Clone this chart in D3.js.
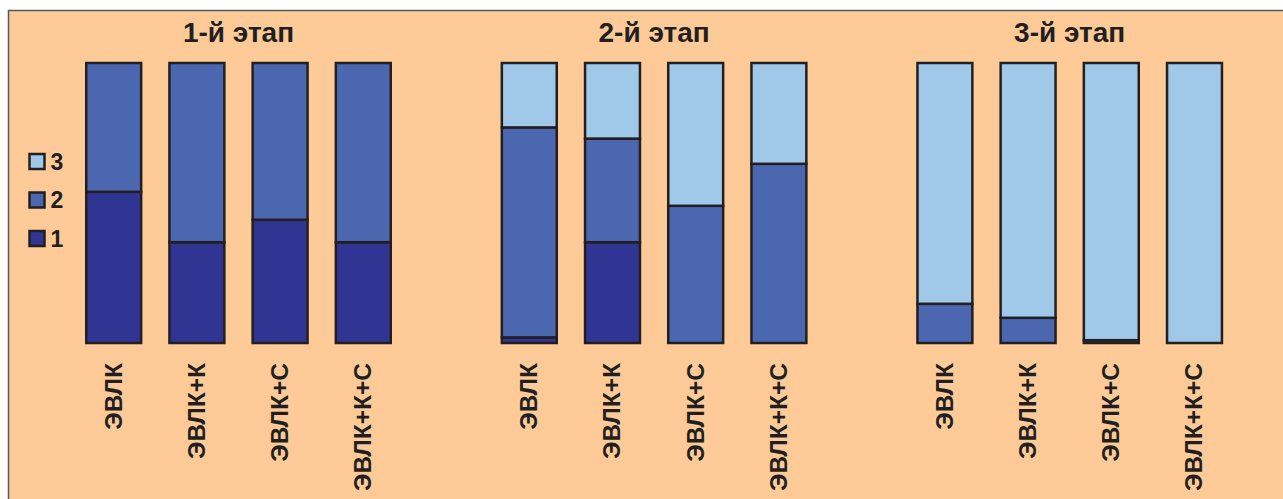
<!DOCTYPE html>
<html>
<head>
<meta charset="utf-8">
<script src="https://cdn.jsdelivr.net/npm/d3@7"></script>
<style>
  html, body { margin: 0; padding: 0; background: #ffffff; }
  svg { display: block; }
  text { font-family: "Liberation Sans", Arial, sans-serif; fill: #231f20; }
</style>
</head>
<body>
<svg id="chart" width="1283" height="499"></svg>
<script>
// Stages (panels) and treatment groups
const stages = ["1-й этап", "2-й этап", "3-й этап"];
const groups = ["ЭВЛК", "ЭВЛК+К", "ЭВЛК+С", "ЭВЛК+К+С"];
const seriesKeys = ["1", "2", "3"];

// Share (%) of each grade per group, one array per stage: [grade1, grade2, grade3]
const stage1 = [[54, 46, 0], [36, 64, 0], [44, 56, 0], [36, 64, 0]];
const stage2 = [[2, 75, 23], [36, 37, 27], [0, 49, 51], [0, 64, 36]];
const stage3 = [[0, 14, 86], [0, 9, 91], [0, 1, 99], [0, 0, 100]];
const stageValues = [stage1, stage2, stage3];

const colors = { "1": "#303594", "2": "#4a67af", "3": "#9fc8e9" };
const bg = "#fecb98";
const ink = "#231f20";

const svg = d3.select("#chart");

// Panel frame
svg.append("rect")
  .attr("x", 8.5).attr("y", 10.5)
  .attr("width", 1300).attr("height", 520)
  .attr("fill", bg)
  .attr("stroke", "#5a5a5a").attr("stroke-width", 1.5);

const y = d3.scaleLinear().domain([0, 100]).range([343, 63]);
const color = d3.scaleOrdinal().domain(seriesKeys).range(seriesKeys.map(k => colors[k]));
const stack = d3.stack().keys(seriesKeys);

const panelCenters = [238.5, 654.1, 1069.7];
const step = 83.2;

stages.forEach((stage, si) => {
  const cx = panelCenters[si];
  const x = d3.scaleBand()
    .domain(groups)
    .range([cx - 2 * step, cx + 2 * step])
    .paddingInner(0.34)
    .paddingOuter(0.17);

  const rows = groups.map((g, gi) => {
    const row = { group: g };
    seriesKeys.forEach((k, ki) => { row[k] = stageValues[si][gi][ki]; });
    return row;
  });
  const layers = stack(rows);

  const panel = svg.append("g");

  panel.append("text")
    .attr("x", cx).attr("y", 42)
    .attr("text-anchor", "middle")
    .attr("font-size", 28).attr("font-weight", "bold")
    .text(stage);

  layers.forEach(layer => {
    panel.append("g")
      .selectAll("rect")
      .data(layer.filter(d => d[1] - d[0] > 0))
      .join("rect")
      .attr("x", d => x(d.data.group))
      .attr("width", x.bandwidth())
      .attr("y", d => y(d[1]))
      .attr("height", d => y(d[0]) - y(d[1]))
      .attr("fill", color(layer.key))
      .attr("stroke", ink)
      .attr("stroke-width", 2.5);
  });

  // Group labels, rotated to read upward
  panel.selectAll("text.group")
    .data(groups)
    .join("text")
    .attr("class", "group")
    .attr("transform", g => `translate(${x(g) + x.bandwidth() / 2 - 1},363) rotate(-90)`)
    .attr("text-anchor", "end")
    .attr("dy", "0.36em")
    .attr("font-size", 24.5).attr("font-weight", "bold")
    .text(g => g);
});

// Legend
const legendKeys = seriesKeys.slice().reverse();
const legend = svg.append("g");
legendKeys.forEach((k, i) => {
  const ly = 154 + i * 38.5;
  legend.append("rect")
    .attr("x", 29.5).attr("y", ly)
    .attr("width", 15).attr("height", 15)
    .attr("fill", color(k))
    .attr("stroke", ink).attr("stroke-width", 2.5);
  legend.append("text")
    .attr("x", 50.5).attr("y", ly + 7.5)
    .attr("dy", "0.36em")
    .attr("font-size", 23).attr("font-weight", "bold")
    .text(k);
});
</script>
</body>
</html>
